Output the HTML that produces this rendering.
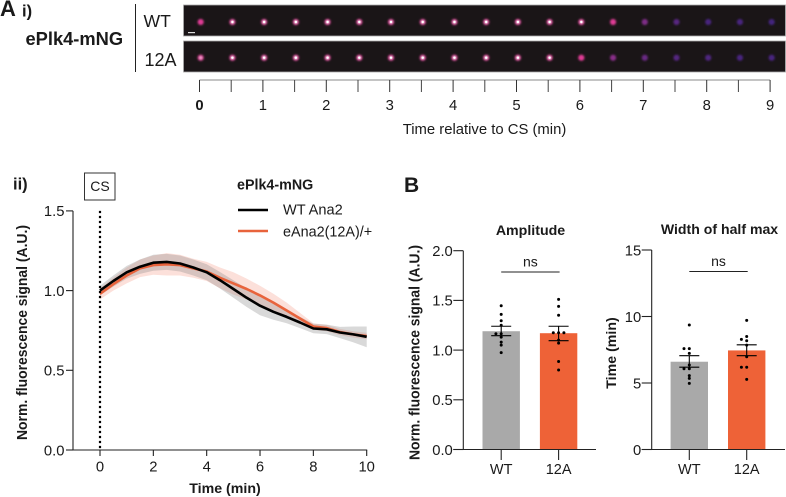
<!DOCTYPE html>
<html lang="en">
<head>
<meta charset="utf-8">
<title>ePlk4-mNG figure</title>
<style>
html,body{margin:0;padding:0;background:#fff;}
svg{display:block;font-family:"Liberation Sans",Arial,sans-serif;fill:#1a1a1a;}
text{fill:#1a1a1a;}
.b{font-weight:bold;}
</style>
</head>
<body>
<svg id="fig" width="786" height="497" viewBox="0 0 786 497" xmlns="http://www.w3.org/2000/svg">
  <defs>
    <filter id="glow" x="-100%" y="-100%" width="300%" height="300%"><feGaussianBlur stdDeviation="1.1"/></filter>
  </defs>

  <text class="b" x="0" y="16" font-size="22">A</text>
  <text class="b" x="22" y="16.5" font-size="16.5">i)</text>
  <text class="b" x="25.5" y="45" font-size="18.3">ePlk4-mNG</text>
  <line x1="135.5" y1="4" x2="135.5" y2="72" stroke="#222" stroke-width="1"/>
  <text x="143.5" y="27" font-size="17.6">WT</text>
  <text x="144.5" y="66" font-size="18">12A</text>
  <rect x="183.5" y="5" width="602" height="31" fill="#1a1517" stroke="#aaa" stroke-width="0.8"/>
  <rect x="183.5" y="41" width="602" height="31" fill="#1a1517" stroke="#aaa" stroke-width="0.8"/>
  <rect x="188" y="32" width="7" height="1.2" fill="#ddd"/>
  <g id="spots"></g>
  <g id="ruler"></g>
  <text x="484.5" y="134" font-size="14.85" text-anchor="middle">Time relative to CS (min)</text>

  <text class="b" x="13" y="189.5" font-size="16.5">ii)</text>
  <rect x="84.5" y="173" width="30.5" height="27" fill="#fff" stroke="#333" stroke-width="1"/>
  <text x="100" y="191" font-size="14" text-anchor="middle">CS</text>
  <g id="lineChart"></g>
  <text class="b" x="237" y="189.5" font-size="14.3">ePlk4-mNG</text>
  <line x1="238" y1="210" x2="268" y2="210" stroke="#000" stroke-width="2.6"/>
  <text x="283" y="214.5" font-size="14.6">WT Ana2</text>
  <line x1="238" y1="231" x2="268" y2="231" stroke="#e8633c" stroke-width="2.6"/>
  <text x="283" y="236.5" font-size="14.4">eAna2(12A)/+</text>
  <text class="b" x="225" y="493" font-size="14.2" text-anchor="middle">Time (min)</text>
  <text class="b" transform="translate(27,332.5) rotate(-90)" font-size="14.8" text-anchor="middle" textLength="215" lengthAdjust="spacingAndGlyphs">Norm. fluorescence signal (A.U.)</text>

  <text class="b" x="404" y="192" font-size="21">B</text>
  <g id="ampChart"></g>
  <g id="widthChart"></g>
  <text class="b" x="530.5" y="235" font-size="14.2" text-anchor="middle">Amplitude</text>
  <text class="b" transform="translate(419.5,352.5) rotate(-90)" font-size="14.8" text-anchor="middle" textLength="215" lengthAdjust="spacingAndGlyphs">Norm. fluorescence signal (A.U.)</text>
  <text class="b" x="719.5" y="234" font-size="14.1" text-anchor="middle">Width of half max</text>
  <text class="b" transform="translate(616,353) rotate(-90)" font-size="14.2" text-anchor="middle">Time (min)</text>
</svg>
<script>
// Image strips: spot brightness per frame
const spotsWT = [.6,.85,.95,.95,1,.9,.85,.95,.95,.95,.95,.9,.8,.6,.35,.22,.15,.15,.12];
const spots12A = [.65,.85,1,1,1,.9,.85,.95,.95,1,1,.85,.6,.38,.28,.2,.18,.15,.15];
// Ruler
const rulerLabels = ['0','1','2','3','4','5','6','7','8','9'];
// Time-course chart
const times = [0,.5,1,1.5,2,2.5,3,3.5,4,4.5,5,5.5,6,6.5,7,7.5,8,8.5,9,9.5,10];
const wtMean = [1,1.06,1.115,1.15,1.175,1.18,1.17,1.145,1.115,1.065,1.01,.955,.905,.867,.835,.8,.762,.757,.737,.725,.71];
const wtErr = [.03,.035,.04,.045,.05,.05,.05,.05,.05,.052,.055,.058,.06,.05,.04,.035,.03,.03,.035,.05,.065];
const oaMean = [.98,1.04,1.095,1.14,1.16,1.165,1.16,1.14,1.12,1.08,1.045,1.01,.97,.925,.875,.825,.775,.765,.74,.725,.715];
const oaErr = [.035,.04,.05,.055,.06,.07,.065,.06,.06,.065,.07,.065,.06,.055,.05,.035,.02,.02,.02,.02,.02];
const lineXTicks = [0,2,4,6,8,10];
const lineYTicks = [0,.5,1,1.5];
// Amplitude bars
const ampMeans = [1.19,1.17];
const ampUpper = [1.24,1.24];
const ampLower = [1.145,1.095];
const ampDotsWT = [1.446,1.36,1.295,1.25,1.165,1.165,1.13,1.08,1.05,.975];
const ampDots12A = [1.51,1.44,1.35,1.175,1.175,1.175,1.10,1.07,.885,.80];
const ampTicks = [0,.5,1,1.5,2];
// Width bars
const widthMeans = [6.6,7.45];
const widthUpper = [7.05,7.87];
const widthLower = [6.19,7.05];
const widthDotsWT = [9.36,7.58,7.58,7.23,6.35,6.07,6.07,5.55,5.35,4.97];
const widthDots12A = [9.71,8.5,8.18,8.28,7.85,6.97,6.18,6.18,5.27];
const widthTicks = [0,5,10,15];
const barLabels = ['WT','12A'];

const NS = 'http://www.w3.org/2000/svg';
const TICK_FONT = 14.8;
function mk(parent, tag, attrs, txt) {
  const el = document.createElementNS(NS, tag);
  for (const k in attrs) el.setAttribute(k, attrs[k]);
  if (txt !== undefined) el.textContent = txt;
  parent.appendChild(el);
  return el;
}
function lerp(a, b, t) { return Math.round(a + (b - a) * t); }

// ---- spots ----
const spotG = document.getElementById('spots');
function drawStrip(values, cy, stripName) {
  values.forEach(function (b, i) {
    const cx = 200.7 + i * 31.72;
    const t = Math.pow(Math.min(1, b / 0.6), 1.6);
    const col = 'rgb(' + lerp(55, 225, t) + ',' + lerp(35, 60, t) + ',' + lerp(125, 150, t) + ')';
    const g = mk(spotG, 'g', {});
    
    
    mk(g, 'circle', {cx: cx, cy: cy, r: 3, fill: col, filter: 'url(#glow)'});
    mk(g, 'circle', {cx: cx, cy: cy, r: 1.6, fill: b > .6 ? '#fff' : col, 'fill-opacity': b > .6 ? Math.min(1, b) : .9, filter: 'url(#glow)'});
    if (b > .75) mk(g, 'circle', {cx: cx, cy: cy, r: 1.2, fill: '#fff'});
  });
}
drawStrip(spotsWT, 22, 'wt');
drawStrip(spots12A, 57.7, '12a');

// ---- ruler ----
const ruler = document.getElementById('ruler');
const rx = function (m) { return 199.5 + m * 63.4; };
const rulerLine = mk(ruler, 'line', {x1: rx(0), y1: 80, x2: rx(9), y2: 80, stroke: '#888', 'stroke-width': 1});


for (let i = 0; i <= 18; i++) {
  const tk = mk(ruler, 'line', {x1: rx(i / 2), y1: 80, x2: rx(i / 2), y2: 92, stroke: i % 2 ? '#444' : '#333', 'stroke-width': 1});
  
  
}
rulerLabels.forEach(function (l, i) {
  const t = mk(ruler, 'text', {x: rx(i), y: 110, 'font-size': TICK_FONT, 'text-anchor': 'middle', 'font-weight': i === 0 ? 'bold' : 'normal'}, l);
  
  
});

// ---- line chart ----
const lc = document.getElementById('lineChart');
const lx = function (t) { return 100 + t * 26.67; };
const ly = function (v) { return 450 - v * 159.4; };
function bandPath(ms, es) {
  const up = times.map(function (t, i) { return lx(t).toFixed(1) + ',' + ly(ms[i] + es[i]).toFixed(1); });
  const dn = times.map(function (t, i) { return lx(t).toFixed(1) + ',' + ly(ms[i] - es[i]).toFixed(1); }).reverse();
  return 'M' + up.join('L') + 'L' + dn.join('L') + 'Z';
}
function linePath(ms) {
  return 'M' + times.map(function (t, i) { return lx(t).toFixed(1) + ',' + ly(ms[i]).toFixed(1); }).join('L');
}
const bandO = mk(lc, 'path', {d: bandPath(oaMean, oaErr), fill: '#f4917a', 'fill-opacity': .28, stroke: 'none'});


const bandW = mk(lc, 'path', {d: bandPath(wtMean, wtErr), fill: '#808080', 'fill-opacity': .3, stroke: 'none'});


const lineO = mk(lc, 'path', {d: linePath(oaMean), fill: 'none', stroke: '#e8633c', 'stroke-width': 2.6, 'stroke-linejoin': 'round'});


const lineW = mk(lc, 'path', {d: linePath(wtMean), fill: 'none', stroke: '#000', 'stroke-width': 2.6, 'stroke-linejoin': 'round'});


const cs = mk(lc, 'line', {x1: lx(0), y1: ly(1.5), x2: lx(0), y2: ly(0), stroke: '#000', 'stroke-width': 2.2, 'stroke-dasharray': '2.2 2.8'});


const lcY = mk(lc, 'line', {x1: 73, y1: ly(1.5), x2: 73, y2: ly(0) + .5, stroke: '#222', 'stroke-width': 1.1});


const lcX = mk(lc, 'line', {x1: 72.5, y1: ly(0), x2: lx(10) + .5, y2: ly(0), stroke: '#222', 'stroke-width': 1.1});


lineYTicks.forEach(function (v) {
  const tk = mk(lc, 'line', {x1: 66, y1: ly(v), x2: 73, y2: ly(v), stroke: '#222', 'stroke-width': 1.1});
  
  
  const t = mk(lc, 'text', {x: 64.5, y: ly(v) + 5.3, 'font-size': TICK_FONT, 'text-anchor': 'end'}, v.toFixed(1));
  
  
});
lineXTicks.forEach(function (v) {
  const tk = mk(lc, 'line', {x1: lx(v), y1: ly(0), x2: lx(v), y2: ly(0) + 6, stroke: '#222', 'stroke-width': 1.1});
  
  
  const t = mk(lc, 'text', {x: lx(v), y: 471.5, 'font-size': TICK_FONT, 'text-anchor': 'middle'}, String(v));
  
  
});

// ---- bar charts ----
function drawBars(cfg) {
  const g = document.getElementById(cfg.id);
  const y = function (v) { return cfg.y0 - v * cfg.scale; };
  const colors = ['#a9a9a9', '#ee6237'];
  const dotSets = [cfg.dotsA, cfg.dotsB];
  cfg.means.forEach(function (m, i) {
    const c = cfg.centers[i];
    const bar = mk(g, 'rect', {x: c - 18.7, y: y(m), width: 37.4, height: cfg.y0 - y(m), fill: colors[i]});
    
    
    let prev = null, side = 0;
    dotSets[i].forEach(function (v) {
      if (prev !== null && Math.abs(prev - v) < .3 * cfg.step) { side = side === 0 ? -1 : -side; } else { side = 0; }
      prev = v;
      const dot = mk(g, 'circle', {cx: c + side * 5.3, cy: y(v), r: 1.5, fill: '#000'});
      
      
    });
    const eb = mk(g, 'path', {d: 'M' + (c - 10) + ',' + y(cfg.upper[i]) + 'H' + (c + 10) + 'M' + (c - 10) + ',' + y(cfg.lower[i]) + 'H' + (c + 10) + 'M' + c + ',' + y(cfg.upper[i]) + 'V' + y(cfg.lower[i]), stroke: '#000', 'stroke-width': 1.1, fill: 'none'});
    
    
    const tk = mk(g, 'line', {x1: c, y1: cfg.y0, x2: c, y2: cfg.y0 + 10.5, stroke: '#222', 'stroke-width': 1.1});
    
    
    const lb = mk(g, 'text', {x: c, y: 474, 'font-size': 14.5, 'text-anchor': 'middle'}, barLabels[i]);
    
    
  });
  const ya = mk(g, 'line', {x1: cfg.axisX, y1: y(cfg.ticks[cfg.ticks.length - 1]), x2: cfg.axisX, y2: cfg.y0 + .5, stroke: '#222', 'stroke-width': 1.1});
  
  
  const xa = mk(g, 'line', {x1: cfg.axisX - 10, y1: cfg.y0, x2: cfg.axisEnd, y2: cfg.y0, stroke: '#222', 'stroke-width': 1.1});
  
  
  cfg.ticks.forEach(function (v) {
    const tk = mk(g, 'line', {x1: cfg.axisX - 10, y1: y(v), x2: cfg.axisX, y2: y(v), stroke: '#222', 'stroke-width': 1.1});
    
    
    const t = mk(g, 'text', {x: cfg.axisX - 10.5, y: y(v) + 5.3, 'font-size': TICK_FONT, 'text-anchor': 'end'}, cfg.fmt(v));
    
    
  });
  const br = mk(g, 'line', {x1: cfg.centers[0], y1: cfg.sigY, x2: cfg.centers[1] + 1, y2: cfg.sigY, stroke: '#222', 'stroke-width': 1.1});
  
  
  const ns = mk(g, 'text', {x: (cfg.centers[0] + cfg.centers[1]) / 2 + .5, y: cfg.sigY - 5.5, 'font-size': 14, 'text-anchor': 'middle'}, 'ns');
  
  
}
drawBars({id: 'ampChart', name: 'amplitude', y0: 449.5, scale: 99.4, step: .05, axisX: 463.3, axisEnd: 596, centers: [501.2, 558.6], sigY: 272, means: ampMeans, upper: ampUpper, lower: ampLower, dotsA: ampDotsWT, dotsB: ampDots12A, ticks: ampTicks, fmt: function (v) { return v.toFixed(1); }});
drawBars({id: 'widthChart', name: 'width', y0: 449.5, scale: 13.3, step: .4, axisX: 651.7, axisEnd: 785, centers: [689.3, 746.7], sigY: 271.5, means: widthMeans, upper: widthUpper, lower: widthLower, dotsA: widthDotsWT, dotsB: widthDots12A, ticks: widthTicks, fmt: function (v) { return String(v); }});
</script>
</body>
</html>
